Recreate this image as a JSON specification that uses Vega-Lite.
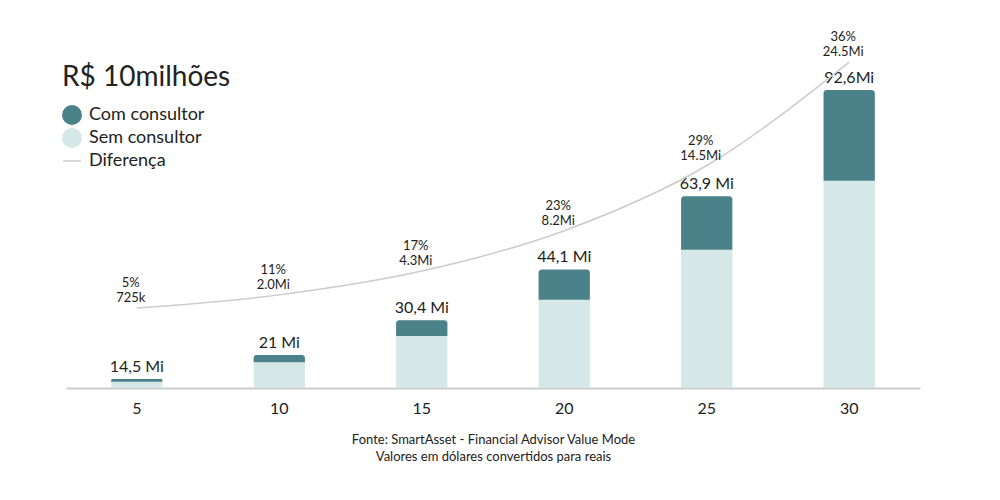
{
  "$schema": "https://vega.github.io/schema/vega-lite/v6.json",
  "width": 854,
  "height": 348,
  "autosize": {"type": "none"},
  "padding": {"left": 66, "top": 40, "right": 80, "bottom": 112},
  "background": "white",
  "config": {
    "font": "Lato",
    "view": {"stroke": null},
    "text": {"color": "#222222", "font": "Lato"}
  },
  "datasets": {
    "barras": [
      {"ano": 5, "serie": "Sem consultor", "base": 0, "topo": 13.775},
      {"ano": 5, "serie": "Com consultor", "base": 13.775, "topo": 14.5},
      {"ano": 10, "serie": "Sem consultor", "base": 0, "topo": 19.0},
      {"ano": 10, "serie": "Com consultor", "base": 19.0, "topo": 21.0},
      {"ano": 15, "serie": "Sem consultor", "base": 0, "topo": 26.1},
      {"ano": 15, "serie": "Com consultor", "base": 26.1, "topo": 30.4},
      {"ano": 20, "serie": "Sem consultor", "base": 0, "topo": 35.9},
      {"ano": 20, "serie": "Com consultor", "base": 35.9, "topo": 44.1},
      {"ano": 25, "serie": "Sem consultor", "base": 0, "topo": 49.4},
      {"ano": 25, "serie": "Com consultor", "base": 49.4, "topo": 63.9},
      {"ano": 30, "serie": "Sem consultor", "base": 0, "topo": 68.1},
      {"ano": 30, "serie": "Com consultor", "base": 68.1, "topo": 92.6}
    ],
    "totais": [
      {"ano": 5, "total": 14.5, "rotulo": "14,5 Mi"},
      {"ano": 10, "total": 21.0, "rotulo": "21 Mi"},
      {"ano": 15, "total": 30.4, "rotulo": "30,4 Mi"},
      {"ano": 20, "total": 44.1, "rotulo": "44,1 Mi"},
      {"ano": 25, "total": 63.9, "rotulo": "63,9 Mi"},
      {"ano": 30, "total": 92.6, "rotulo": "92,6Mi"}
    ],
    "diferenca": [
      {"ano": 5, "diferenca": 0.725, "rotulo": "5%\n725k"},
      {"ano": 10, "diferenca": 2.0, "rotulo": "11%\n2.0Mi"},
      {"ano": 15, "diferenca": 4.3, "rotulo": "17%\n4.3Mi"},
      {"ano": 20, "diferenca": 8.2, "rotulo": "23%\n8.2Mi"},
      {"ano": 25, "diferenca": 14.5, "rotulo": "29%\n14.5Mi"},
      {"ano": 30, "diferenca": 24.5, "rotulo": "36%\n24.5Mi"}
    ]
  },
  "encoding": {
    "x": {
      "field": "ano",
      "type": "ordinal",
      "scale": {"paddingInner": 0.64, "paddingOuter": 0.317},
      "axis": {
        "labelAngle": 0,
        "labelFontSize": 16,
        "labelColor": "#222222",
        "labelPadding": 12,
        "ticks": false,
        "domainColor": "#cccccc",
        "domainWidth": 2,
        "title": ["Fonte: SmartAsset - Financial Advisor Value Mode", "Valores em dólares convertidos para reais"],
        "titleFontSize": 13,
        "titleFontWeight": "normal",
        "titleColor": "#222222",
        "titleLineHeight": 17,
        "titlePadding": 17
      }
    }
  },
  "layer": [
    {
      "layer": [
        {
          "data": {"name": "barras"},
          "transform": [{"filter": "datum.serie === 'Sem consultor'"}],
          "mark": {"type": "bar", "clip": true},
          "encoding": {
            "y": {"field": "topo", "type": "quantitative", "scale": {"domain": [12.07, 106.1], "nice": false, "zero": false}, "axis": null},
            "y2": {"field": "base"},
            "color": {
              "field": "serie",
              "type": "nominal",
              "scale": {"domain": ["Com consultor", "Sem consultor"], "range": ["#4b8189", "#d6e7e8"]},
              "legend": {
                "orient": "none",
                "legendX": -4,
                "legendY": 24,
                "title": "R$ 10milhões",
                "titleFontSize": 28,
                "titleFontWeight": "normal",
                "titleColor": "#222222",
                "titlePadding": 13,
                "symbolType": "circle",
                "symbolSize": 400,
                "symbolStrokeWidth": 0,
                "symbolOpacity": 1,
                "labelFontSize": 18,
                "labelColor": "#222222",
                "labelOffset": 7,
                "rowPadding": 3
              }
            }
          }
        },
        {
          "data": {"name": "barras"},
          "transform": [{"filter": "datum.serie === 'Com consultor'"}],
          "mark": {"type": "bar", "clip": true, "cornerRadiusTopLeft": 3, "cornerRadiusTopRight": 3},
          "encoding": {
            "y": {"field": "topo", "type": "quantitative"},
            "y2": {"field": "base"},
            "color": {"field": "serie", "type": "nominal"}
          }
        },
        {
          "data": {"name": "totais"},
          "mark": {"type": "text", "baseline": "bottom", "dy": -4, "fontSize": 16},
          "encoding": {
            "y": {"field": "total", "type": "quantitative"},
            "text": {"field": "rotulo"}
          }
        }
      ]
    },
    {
      "data": {"name": "diferenca"},
      "layer": [
        {
          "mark": {"type": "line", "interpolate": "monotone", "strokeWidth": 1.5},
          "encoding": {
            "y": {"field": "diferenca", "type": "quantitative", "scale": {"domain": [-7.0, 26.63], "nice": false, "zero": false}, "axis": null},
            "stroke": {
              "datum": "Diferença",
              "scale": {"range": ["#cccccc"]},
              "legend": {
                "orient": "none",
                "legendX": -4,
                "legendY": 111,
                "title": null,
                "symbolType": "stroke",
                "symbolSize": 324,
                "symbolStrokeWidth": 1.5,
                "labelFontSize": 18,
                "labelColor": "#222222",
                "labelOffset": 7
              }
            }
          }
        },
        {
          "mark": {"type": "text", "baseline": "bottom", "dx": -6, "dy": -18, "fontSize": 13, "lineBreak": "\n", "lineHeight": 15},
          "encoding": {
            "y": {"field": "diferenca", "type": "quantitative"},
            "text": {"field": "rotulo"}
          }
        }
      ]
    }
  ],
  "resolve": {"scale": {"y": "independent"}}
}
